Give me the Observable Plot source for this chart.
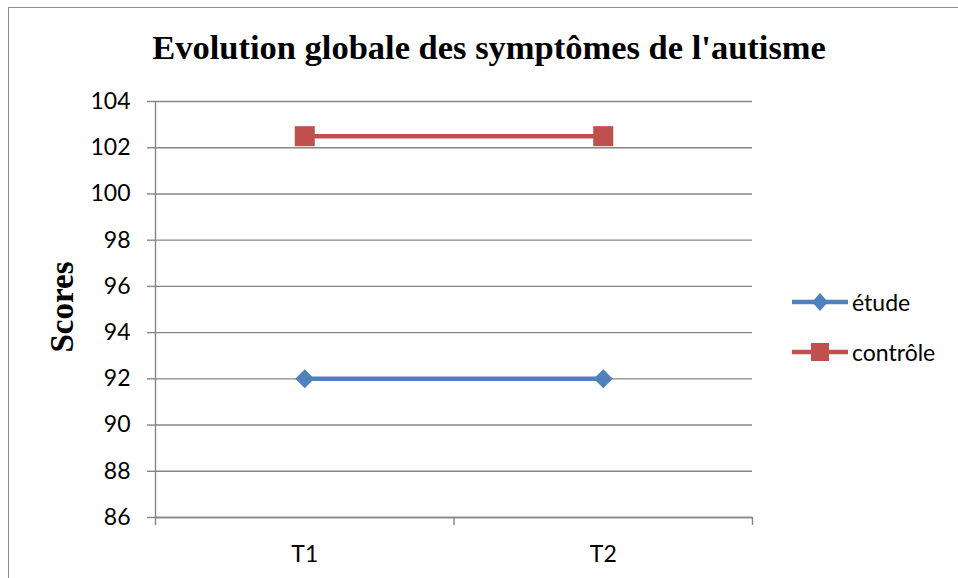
<!DOCTYPE html>
<html>
<head>
<meta charset="utf-8">
<script src="https://cdn.jsdelivr.net/npm/d3@7"></script>
<script src="https://cdn.jsdelivr.net/npm/@observablehq/plot@0.6"></script>
<style>
  html, body { margin: 0; padding: 0; background: #fff; }
  #wrap { position: relative; width: 958px; height: 578px; overflow: hidden; }
  #frame { position: absolute; left: 8px; top: 7px; width: 1000px; height: 700px; border-left: 1.5px solid #8c8c8c; border-top: 1.5px solid #8c8c8c; }
  #title { position: absolute; left: 0; width: 978px; top: 28px; text-align: center; font-family: "Liberation Serif", "Times New Roman", serif; font-weight: bold; font-size: 34.5px; color: #000; white-space: nowrap; }
  #ylab { position: absolute; left: 62px; top: 307px; transform: translate(-50%, -50%) rotate(-90deg); font-family: "Liberation Serif", serif; font-weight: bold; font-size: 33px; white-space: nowrap; }
  #legend { position: absolute; left: 792px; top: 277px; font-family: Lato, sans-serif; font-size: 23px; }
  .item { display: flex; align-items: center; height: 50px; }
  .item svg { margin-right: 4px; }
</style>
</head>
<body>
<div id="wrap">
  <div id="frame"></div>
  <div id="chart"></div>
  <div id="title">Evolution globale des symptômes de l'autisme</div>
  <div id="ylab">Scores</div>
  <div id="legend"></div>
</div>
<script>
const periods = ["T1", "T2"];
const etude = [92, 92];
const controle = [102.5, 102.5];
const seriesNames = ["étude", "contrôle"];
const seriesColors = ["#4F81BD", "#C0504D"];
const yTicks = [86, 88, 90, 92, 94, 96, 98, 100, 102, 104];

const rows = [];
periods.forEach((p, i) => {
  rows.push({ series: seriesNames[0], idx: i + 1, value: etude[i] });
  rows.push({ series: seriesNames[1], idx: i + 1, value: controle[i] });
});
const rowsE = rows.filter(d => d.series === seriesNames[0]);
const rowsC = rows.filter(d => d.series === seriesNames[1]);
const grid = "#868686";

const chart = Plot.plot({
  width: 958,
  height: 578,
  marginLeft: 155,
  marginRight: 206,
  marginTop: 101,
  marginBottom: 61,
  style: { fontFamily: "Lato, sans-serif", fontSize: "23px", color: "#000", background: "transparent" },
  x: { type: "linear", domain: [0.5, periods.length + 0.5] },
  y: { domain: [86, 104] },
  marks: [
    Plot.gridY(yTicks, { stroke: grid, strokeOpacity: 1, strokeWidth: 1.4 }),
    Plot.axisY({ ticks: yTicks, tickSize: 8, tickPadding: 17, stroke: grid, strokeWidth: 1.4, fill: "#000", fontSize: 23, label: null }),
    Plot.ruleX([0.5], { y1: 104, y2: 86, stroke: grid, strokeWidth: 1.4 }),
    Plot.ruleY([86], { stroke: grid, strokeWidth: 1.4 }),
    Plot.axisX({ ticks: d3.range(0.5, periods.length + 1, 1), tickSize: 8, stroke: grid, strokeWidth: 1.4, tickFormat: () => "", label: null }),
    Plot.axisX({ ticks: d3.range(1, periods.length + 1), tickSize: 0, tickPadding: 28, tickFormat: d => periods[d - 1], fill: "#000", fontSize: 23, label: null }),
    Plot.line(rowsE, { x: "idx", y: "value", stroke: seriesColors[0], strokeWidth: 4.5 }),
    Plot.line(rowsC, { x: "idx", y: "value", stroke: seriesColors[1], strokeWidth: 4.5 }),
    Plot.dot(rowsE, { x: "idx", y: "value", symbol: "square", rotate: 45, r: 7.6, fill: seriesColors[0], stroke: "none" }),
    Plot.dot(rowsC, { x: "idx", y: "value", symbol: "square", r: 11.3, fill: seriesColors[1], stroke: "none" })
  ]
});
document.getElementById("chart").appendChild(chart);

// legend
const leg = document.getElementById("legend");
seriesNames.forEach((name, i) => {
  const item = document.createElement("div");
  item.className = "item";
  const marker = i === 0
    ? `<path d="M28,4 L36,13 L28,22 L20,13 Z" fill="${seriesColors[i]}"/>`
    : `<rect x="19" y="4" width="18" height="18" fill="${seriesColors[i]}"/>`;
  item.innerHTML = `<svg width="56" height="26"><line x1="0" x2="56" y1="13" y2="13" stroke="${seriesColors[i]}" stroke-width="4.5"/>${marker}</svg><span>${name}</span>`;
  leg.appendChild(item);
});
</script>
</body>
</html>
